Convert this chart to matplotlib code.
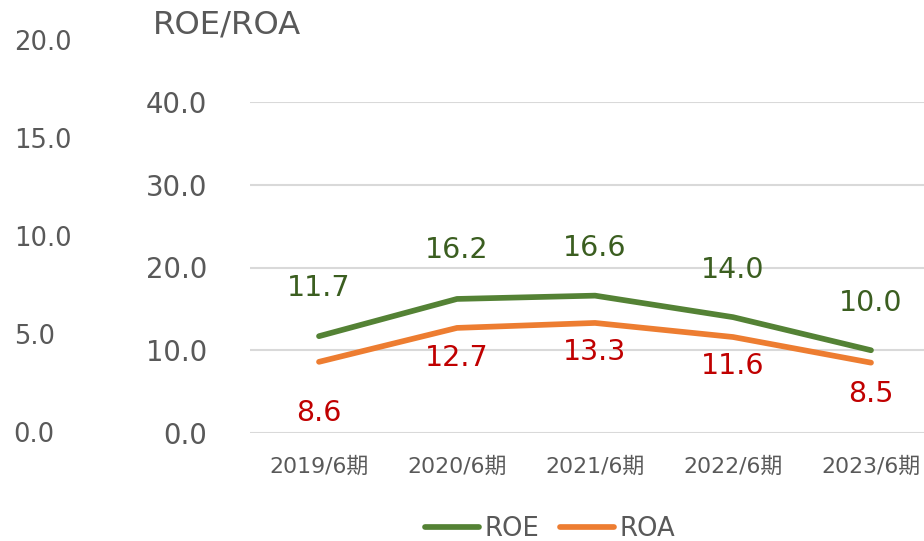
import matplotlib
matplotlib.use('Agg')
import matplotlib.pyplot as plt

plt.rcParams['font.family'] = ['DejaVu Sans', 'Noto Sans CJK JP']

# data
periods = ['2019/6期', '2020/6期', '2021/6期', '2022/6期', '2023/6期']
roe = [11.7, 16.2, 16.6, 14.0, 10.0]
roa = [8.6, 12.7, 13.3, 11.6, 8.5]
main_ticks = [0, 10, 20, 30, 40]
left_ticks = [0, 5, 10, 15, 20]

# label offsets in pixels (from the picture)
roe_offsets = [48, 49, 48, 47, 47]
roa_offsets = [-51, -30, -29, -29, -31]

gray = '#595959'
green = '#548235'
green_text = '#3B5E20'
orange = '#ED7D31'
red_text = '#C00000'

fig = plt.figure(figsize=(9.24, 5.41), dpi=100)
W, H = 924, 541

# main axes
ax = fig.add_axes([250 / W, (H - 433) / H, 690 / W, (433 - 102) / H])
x = list(range(len(periods)))
ax.plot(x, roe, color=green, linewidth=4.1, solid_capstyle='round', label='ROE')
ax.plot(x, roa, color=orange, linewidth=4.1, solid_capstyle='round', label='ROA')

for i, v in enumerate(roe):
    ax.annotate(f'{v:.1f}', (i, v), xytext=(0, roe_offsets[i]), textcoords='offset pixels',
                ha='center', va='center', fontsize=20.5, color=green_text)
for i, v in enumerate(roa):
    ax.annotate(f'{v:.1f}', (i, v), xytext=(0, roa_offsets[i]), textcoords='offset pixels',
                ha='center', va='center', fontsize=20.5, color=red_text)

ax.set_xlim(-0.5, 4.5)
ax.set_ylim(0, 40)
ax.set_yticks(main_ticks)
ax.set_yticklabels([f'{t:.1f}' for t in main_ticks])
ax.set_xticks(x)
ax.set_xticklabels(periods)
ax.tick_params(axis='y', length=0, pad=31, labelsize=19.8, labelcolor=gray)
ax.tick_params(axis='x', length=0, pad=17, labelsize=15.8, labelcolor=gray)
ax.grid(axis='y', color='#D9D9D9', linewidth=1.5)
ax.set_axisbelow(True)
for s in ax.spines.values():
    s.set_visible(False)

# stray secondary axis on the far left
ax2 = fig.add_axes([8 / W, (H - 432) / H, 0.0001, (432 - 40) / H])
ax2.set_ylim(0, 20)
ax2.set_yticks(left_ticks)
ax2.set_yticklabels([f'{t:.1f}' for t in left_ticks])
ax2.yaxis.tick_right()
ax2.set_xticks([])
ax2.tick_params(axis='y', length=0, pad=4, labelsize=18.6, labelcolor=gray)
for s in ax2.spines.values():
    s.set_visible(False)
ax2.patch.set_visible(False)

fig.text(153 / W, 1 - 25 / H, 'ROE/ROA', ha='left', va='center', fontsize=23.2, color=gray)

h, l = ax.get_legend_handles_labels()
leg = fig.legend(h, l, loc='center', bbox_to_anchor=(550 / W, 1 - 529 / H), ncol=2, frameon=False,
                 fontsize=18.6, handlelength=2.1, handletextpad=0.2, columnspacing=0.8)
for t in leg.get_texts():
    t.set_color(gray)

fig.savefig('out.png', dpi=100)
